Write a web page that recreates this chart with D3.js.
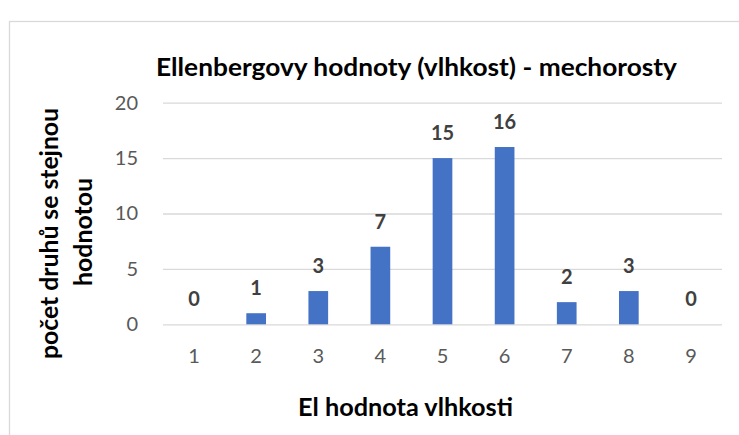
<!DOCTYPE html>
<html>
<head>
<meta charset="utf-8">
<script src="https://cdn.jsdelivr.net/npm/d3@7"></script>
<style>
  html, body { margin: 0; padding: 0; background: #fff; }
  svg { display: block; }
  text { font-family: Lato, "Open Sans", sans-serif; }
</style>
</head>
<body>
<svg id="chart" width="739" height="435"></svg>
<script>
const categories = ["1", "2", "3", "4", "5", "6", "7", "8", "9"];
const values = [0, 1, 3, 7, 15, 16, 2, 3, 0];
const yTicks = [0, 5, 10, 15, 20];
const titleText = "Ellenbergovy hodnoty (vlhkost) - mechorosty";
const xTitleText = "El hodnota vlhkosti";
const yTitleLines = ["počet druhů se stejnou", "hodnotou"];

(function () {
const svg = d3.select("#chart");

// chart frame (cut off at right and bottom)
svg.append("rect")
  .attr("x", 9.5).attr("y", 21.5)
  .attr("width", 900).attr("height", 600)
  .attr("fill", "#fff")
  .attr("stroke", "#d9d9d9").attr("stroke-width", 1.3);

const pLeft = 163, pRight = 722, pTop = 102.7, pBottom = 324.3;

const x = d3.scaleBand()
  .domain(categories)
  .range([pLeft, pRight])
  .paddingInner(0.683)
  .paddingOuter(0.3415);

const y = d3.scaleLinear().domain([0, 20]).range([pBottom, pTop]);

// gridlines + y tick labels
const yAxis = d3.axisLeft(y).tickValues(yTicks).tickSize(-(pRight - pLeft)).tickPadding(25);
const gy = svg.append("g").attr("transform", `translate(${pLeft},0)`).call(yAxis);
gy.select(".domain").remove();
gy.selectAll(".tick line").attr("stroke", "#d9d9d9").attr("stroke-width", 1.3);
gy.selectAll(".tick text")
  .attr("fill", "#595959")
  .style("font-size", "20px")
  .style("font-family", "Lato, 'Open Sans', sans-serif");

// x axis labels
const xAxis = d3.axisBottom(x).tickSize(0).tickPadding(0);
const gx = svg.append("g").attr("transform", `translate(0,${pBottom})`).call(xAxis);
gx.select(".domain").remove();
gx.selectAll(".tick text")
  .attr("y", 39).attr("dy", 0)
  .attr("fill", "#595959")
  .style("font-size", "20px")
  .style("font-family", "Lato, 'Open Sans', sans-serif");

// bars
svg.append("g").selectAll("rect")
  .data(values)
  .join("rect")
  .attr("x", (d, i) => x(categories[i]))
  .attr("y", d => y(d))
  .attr("width", x.bandwidth())
  .attr("height", d => y(0) - y(d))
  .attr("fill", "#4472c4");

// data labels
svg.append("g").selectAll("text")
  .data(values)
  .join("text")
  .attr("x", (d, i) => x(categories[i]) + x.bandwidth() / 2)
  .attr("y", d => y(d) - 18)
  .attr("text-anchor", "middle")
  .attr("fill", "#404040")
  .style("font-size", "20px")
  .style("font-weight", "bold")
  .text(d => d);

// title
svg.append("text")
  .attr("x", 416.5).attr("y", 76)
  .attr("text-anchor", "middle")
  .attr("fill", "#000")
  .attr("textLength", 521).attr("lengthAdjust", "spacingAndGlyphs")
  .style("font-size", "24px").style("font-weight", "bold")
  .text(titleText);

// x axis title
svg.append("text")
  .attr("x", 405.5).attr("y", 416)
  .attr("text-anchor", "middle")
  .attr("fill", "#000")
  .attr("textLength", 215).attr("lengthAdjust", "spacingAndGlyphs")
  .style("font-size", "24px").style("font-weight", "bold")
  .text(xTitleText);

// y axis title (two lines)
const yTitlePos = [{bx: 58, cy: 233.5, len: 251}, {bx: 91.5, cy: 232, len: 108}];
yTitleLines.forEach((line, i) => {
  svg.append("text")
    .attr("transform", `translate(${yTitlePos[i].bx},${yTitlePos[i].cy}) rotate(-90)`)
    .attr("text-anchor", "middle")
    .attr("fill", "#000")
    .attr("textLength", yTitlePos[i].len).attr("lengthAdjust", "spacingAndGlyphs")
    .style("font-size", "24px").style("font-weight", "bold")
    .text(line);
});
})();
</script>
</body>
</html>
